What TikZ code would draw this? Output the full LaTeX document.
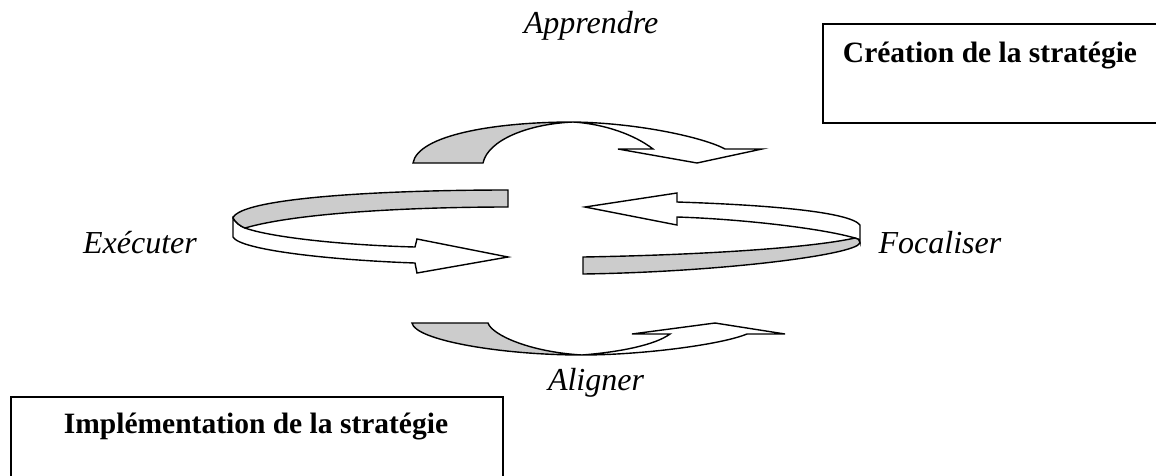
\documentclass[tikz,border=0pt]{standalone}
\usepackage{fontspec}
\setmainfont{Liberation Serif}
\usetikzlibrary{positioning}
\tikzset{
  lbl/.style={font=\fontsize{32}{37}\selectfont\itshape, anchor=base},
  boxtitle/.style={font=\fontsize{29.5}{34}\selectfont\bfseries, anchor=base},
  stratbox/.style={draw, line width=2pt, anchor=north west, inner sep=0pt},
  ribbon/.style={draw, fill=white, line width=1.4pt, line join=miter},
  backface/.style={draw, fill=black!20, line width=1.4pt, line join=miter}
}
\begin{document}
\begin{tikzpicture}[x=1pt, y=-1pt]
    \clip (0,0) rectangle (1156,475);
    % boxes
    \node[stratbox, minimum width=360pt, minimum height=99pt] (creation) at (822,23) {};
    \node[boxtitle] (creationtitle) at (990,62) {Création de la stratégie};
    \node[stratbox, minimum width=492pt, minimum height=100pt] (implementation) at (10,396) {};
    \node[boxtitle] (implementationtitle) at (256,433) {Implémentation de la stratégie};
    % labels
    \node[lbl] (apprendre) at (591,33) {Apprendre};
    \node[lbl] (executer) at (140,253) {Exécuter};
    \node[lbl] (focaliser) at (940,253) {Focaliser};
    \node[lbl] (aligner) at (596,390) {Aligner};
    % top arrow
    \path[backface] (413,163) .. controls (418,135) and (495,122) .. (573,122)
        .. controls (528,124) and (488,140) .. (483,163) -- cycle;
    \path[ribbon] (573,122) .. controls (640,123) and (705,138) .. (725,149) -- (762,149) -- (697,163)
        -- (618,149) -- (653,149) .. controls (635,135) and (605,124) .. (573,122) -- cycle;
    % left arrow
    \path[ribbon] (233,218) -- (233,237) .. controls (240,250) and (330,260) .. (415,263) -- (417,273)
        -- (508,257) -- (417,239) -- (415,247) .. controls (340,245) and (270,237) .. (245,228)
        .. controls (240,226) and (236,223) .. (233,218) -- cycle;
    \path[backface] (508,190) -- (508,207) .. controls (420,207) and (300,212) .. (245,228)
        .. controls (240,226) and (236,223) .. (233,218) .. controls (240,198) and (380,190) .. (508,190) -- cycle;
    % right arrow
    \path[ribbon] (585,207) -- (677,193) -- (677,202) .. controls (770,205) and (850,212) .. (860,225)
        -- (860,243) .. controls (860,240) and (858,238) .. (855,238)
        .. controls (820,228) and (740,219) .. (677,217) -- (677,225) -- cycle;
    \path[backface] (583,257) .. controls (700,255) and (810,248) .. (855,238)
        .. controls (858,238) and (860,240) .. (860,243) .. controls (855,255) and (720,272) .. (583,274) -- cycle;
    % bottom arrow
    \path[backface] (412,323) -- (488,323) .. controls (492,335) and (530,352) .. (582,355)
        .. controls (500,355) and (415,340) .. (412,323) -- cycle;
    \path[ribbon] (582,355) .. controls (640,355) and (720,345) .. (747,334) -- (785,334) -- (715,323)
        -- (632,334) -- (670,334) .. controls (655,345) and (620,352) .. (582,355) -- cycle;
\end{tikzpicture}
\end{document}
